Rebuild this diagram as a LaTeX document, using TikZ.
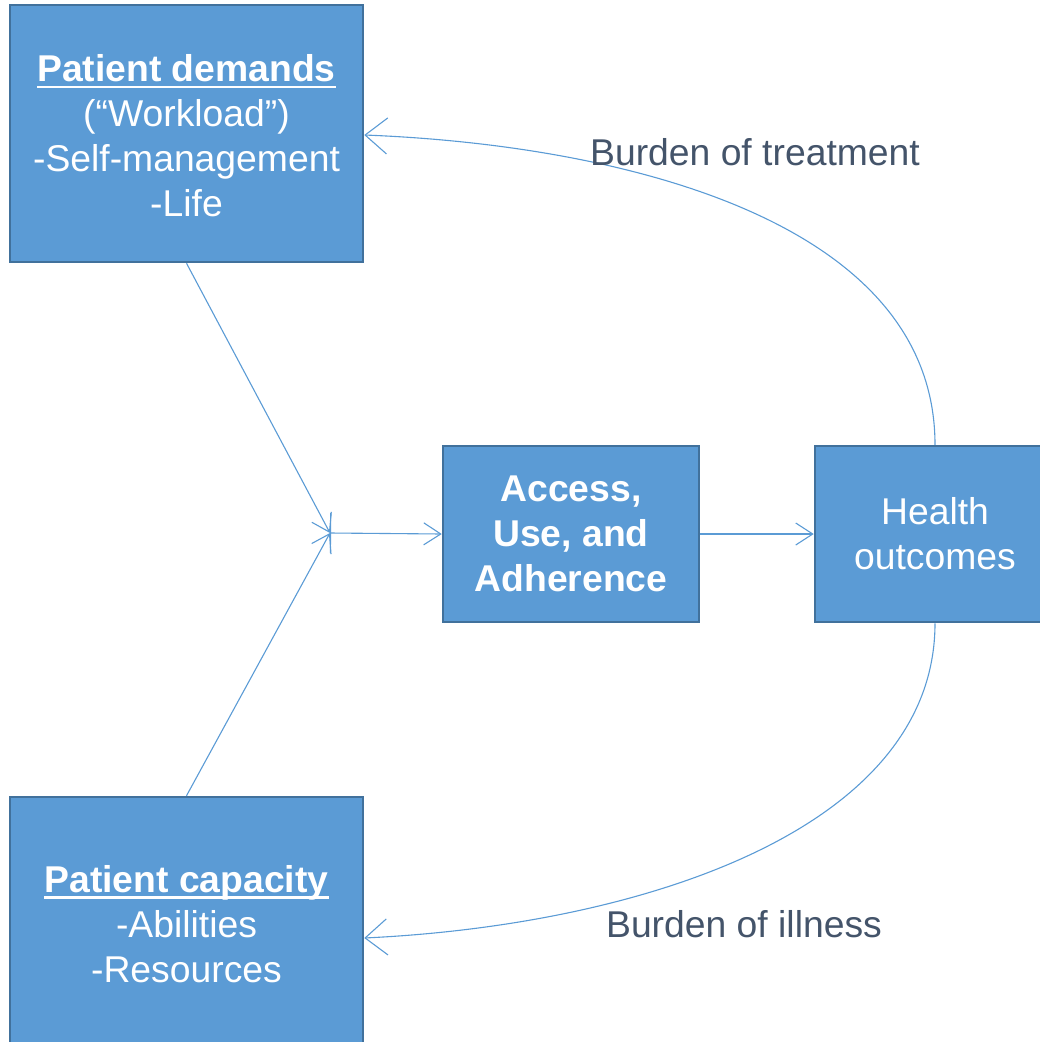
\documentclass[tikz,border=0pt]{standalone}
\usepackage{fontspec}
\setmainfont{Liberation Sans}
\usetikzlibrary{arrows.meta}
\definecolor{boxfill}{HTML}{5B9BD5}
\definecolor{boxline}{HTML}{41719C}
\definecolor{conn}{HTML}{5B9BD5}
\definecolor{lbl}{HTML}{44546A}
\newcommand\myul[1]{\setbox0\hbox{#1}\rlap{\rule[-6.5pt]{\wd0}{2.6pt}}\box0}
\tikzset{
  box/.style={draw=boxline, line width=2.5pt, fill=boxfill, text=white, align=center,
    inner sep=0pt, font=\fontsize{37.3}{45}\selectfont},
  conline/.style={draw=conn, line width=1.1pt},
  tipS/.style={-{Straight Barb[length=17pt,width=22pt,line width=1.1pt]}},
  tipC/.style={-{Straight Barb[length=22pt,width=36pt,line width=1.1pt]}},
  lab/.style={text=lbl, font=\fontsize{37.3}{45}\selectfont, inner sep=0pt},
}
\begin{document}
\begin{tikzpicture}[x=1pt,y=-1pt]
\useasboundingbox (0,0) rectangle (1040,1042);
\clip (0,0) rectangle (1040,1042);
\node[box, minimum width=353pt, minimum height=257pt] (dem) at (186.5,133.5)
  {};
\node[white, align=center, inner sep=0pt, font=\fontsize{37.3}{45}\selectfont] (demt) at (186.5,136)
  {\myul{\textbf{Patient demands}}\\(“Workload”)\\-Self-management\\-Life};
\node[box, minimum width=353pt, minimum height=257pt] (cap) at (186.5,925.5)
  {};
\node[white, align=center, inner sep=0pt, font=\fontsize{37.3}{45}\selectfont] (capt) at (186.5,924)
  {\myul{\textbf{Patient capacity}}\\-Abilities\\-Resources};
\node[box, minimum width=256pt, minimum height=176pt] (acc) at (571,534)
  {\textbf{Access,}\\\textbf{Use, and}\\\textbf{Adherence}};
\node[box, minimum width=240pt, minimum height=176pt] (hea) at (935,534)
  {Health\\outcomes};
\coordinate (j) at (330,533);
\draw[conline, tipS] (dem.south) -- (j);
\draw[conline, tipS] (cap.north) -- (j);
\draw[conline, {Bar[width=40pt,line width=1.1pt]}-{Straight Barb[length=17pt,width=22pt,line width=1.1pt]}] (j) -- (acc.west);
\draw[conline, tipS] (acc.east) -- (hea.west);
\draw[conline, tipC] (hea.north) .. controls (935,220) and (620,145) .. ([yshift=-1.5pt]dem.east);
\draw[conline, tipC] (hea.south) .. controls (935,830) and (640,925) .. ([yshift=-12.5pt]cap.east);
\node[lab] (bt) at (755,152) {Burden of treatment};
\node[lab] (bi) at (744,924) {Burden of illness};
\end{tikzpicture}
\end{document}
